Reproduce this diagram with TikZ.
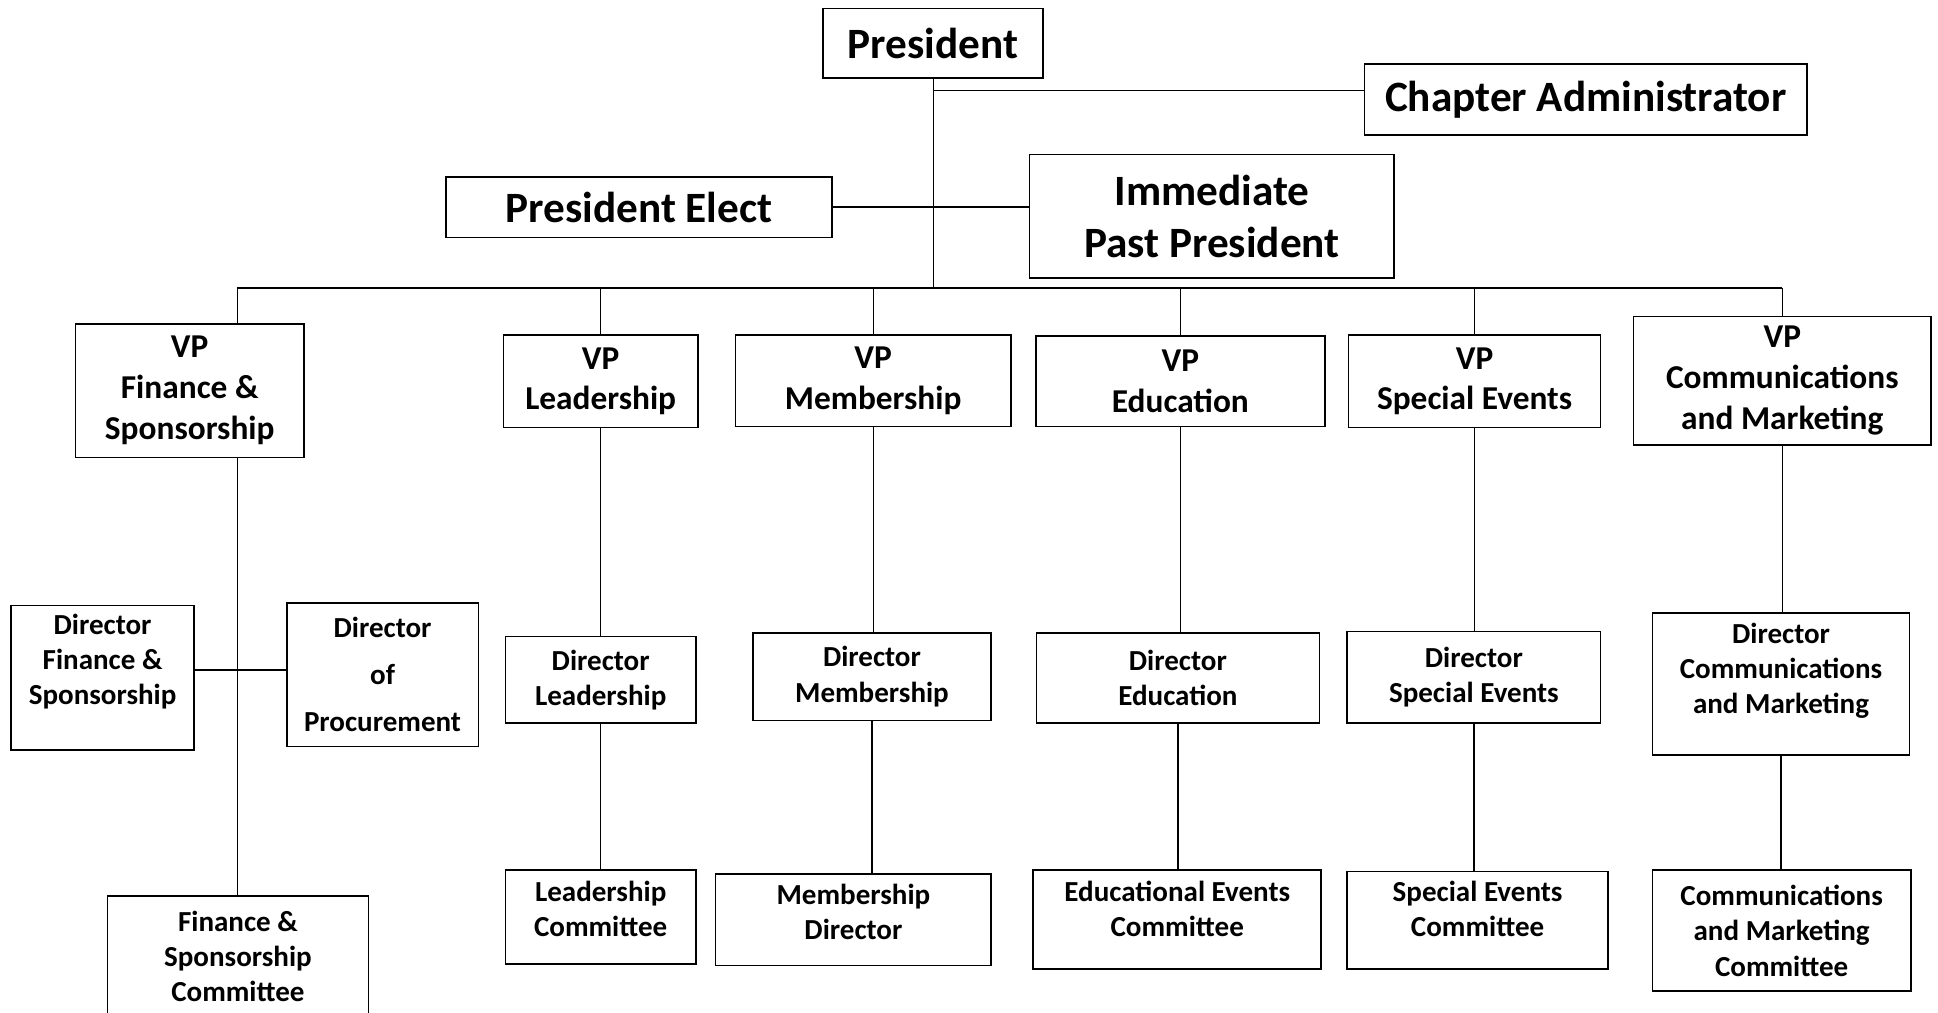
\documentclass[tikz,border=0pt]{standalone}
\usepackage{fontspec}
\setmainfont{Carlito}
\tikzset{
  box/.style={draw, line width=1.3pt, rectangle, align=center, inner sep=0pt},
  wh/.style 2 args={minimum width=#1pt, minimum height=#2pt},
  lift/.style={text depth=#1pt},
  topbox/.style={box, font=\fontsize{35}{42}\selectfont\bfseries},
  vpbox/.style={box, font=\fontsize{27}{33}\selectfont\bfseries},
  dirbox/.style={box, font=\fontsize{23.5}{28.5}\selectfont\bfseries},
  link/.style={line width=1pt}
}
\begin{document}
\begin{tikzpicture}[x=1pt,y=-1pt]
\useasboundingbox (0,0) rectangle (1568,819);
% top of the chart
\node [topbox, wh={178}{56},  name=pres]   at (755,35)    {President};
\node [topbox, wh={358}{57},  name=chadm]  at (1283,80.5) {Chapter Administrator};
\node [topbox, wh={312}{49},  name=pelect] at (517,167.5) {President Elect};
\node [topbox, wh={295}{100}, name=ipp]    at (980.5,175) {Immediate\\Past President};
\coordinate (cajoin) at (755,73);
\coordinate (busL) at (192,233);
\coordinate (busR) at (1442,233);
% vice presidents
\node [vpbox, wh={185}{108}, name=vpfin]  at (153.5,316)  {VP\\Finance \&\\Sponsorship};
\node [vpbox, wh={157}{75},  name=vplead] at (486,308.5)  {VP\\Leadership};
\node [vpbox, wh={223}{74},  name=vpmem]  at (706.5,308)  {VP\\Membership};
\node [vpbox, wh={234}{73},  name=vpedu]  at (955,308.5)  {VP\\Education};
\node [vpbox, wh={204}{75},  name=vpspec] at (1193,308.5) {VP\\Special Events};
\node [vpbox, wh={241}{104}, name=vpcom]  at (1442,308)   {VP\\Communications\\and Marketing};
% directors
\node [dirbox, wh={148}{117}, lift=30, name=dirfin]  at (83,548.5)    {Director\\Finance \&\\Sponsorship};
\node [dirbox, wh={155}{116}, name=dirproc, font=\fontsize{23.5}{38}\selectfont\bfseries] at (309.5,546) {Director\\of\\Procurement};
\node [dirbox, wh={154}{70},  name=dirlead] at (486,550)     {Director\\Leadership};
\node [dirbox, wh={193}{71},  name=dirmem]  at (705.5,547.5) {Director\\Membership};
\node [dirbox, wh={229}{73},  name=diredu]  at (953,548.5)   {Director\\Education};
\node [dirbox, wh={205}{74},  name=dirspec] at (1192.5,548)  {Director\\Special Events};
\node [dirbox, wh={208}{115}, lift=26, name=dircom]  at (1441,553.5)  {Director\\Communications\\and Marketing};
% committees
\node [dirbox, wh={211}{98}, name=comfin]  at (192.5,774)   {Finance \&\\Sponsorship\\Committee};
\node [dirbox, wh={154}{76}, lift=13, name=comlead] at (486,742)     {Leadership\\Committee};
\node [dirbox, wh={223}{74}, lift=13, name=memdir]  at (690.5,744)   {Membership\\Director};
\node [dirbox, wh={233}{80}, lift=18, name=comedu]  at (952.5,744)   {Educational Events\\Committee};
\node [dirbox, wh={211}{79}, lift=18, name=comspec] at (1195.5,744.5) {Special Events\\Committee};
\node [dirbox, wh={209}{98}, name=comcom]  at (1441.5,753)  {Communications\\and Marketing\\Committee};
% connectors
\draw [link] (pres.south) -- (pres.south |- busL);
\draw [link] (cajoin) -- (cajoin -| chadm.west);
\draw [link] (pelect.east) -- (pelect.east -| ipp.west);
\draw [link] (busL) -- (busR);
\draw [link] (busL) -- (busL |- vpfin.north);
\draw [link] (vplead.north |- busL) -- (vplead.north);
\draw [link] (vpmem.north |- busL) -- (vpmem.north);
\draw [link] (vpedu.north |- busL) -- (vpedu.north);
\draw [link] (vpspec.north |- busL) -- (vpspec.north);
\draw [link] (busR) -- (vpcom.north);
\draw [link] (busL |- vpfin.south) -- (busL |- comfin.north);
\draw [link] (dirfin.east |- 0,542) -- (dirproc.west |- 0,542);
\draw [link] (vplead.south) -- (dirlead.north);
\draw [link] (dirlead.south) -- (comlead.north);
\draw [link] (vpmem.south) -- (vpmem.south |- dirmem.north);
\draw [link] (dirmem.south) -- (dirmem.south |- memdir.north);
\draw [link] (vpedu.south) -- (vpedu.south |- diredu.north);
\draw [link] (diredu.south) -- (diredu.south |- comedu.north);
\draw [link] (vpspec.south) -- (vpspec.south |- dirspec.north);
\draw [link] (dirspec.south) -- (dirspec.south |- comspec.north);
\draw [link] (vpcom.south) -- (vpcom.south |- dircom.north);
\draw [link] (dircom.south) -- (dircom.south |- comcom.north);
\end{tikzpicture}
\end{document}
